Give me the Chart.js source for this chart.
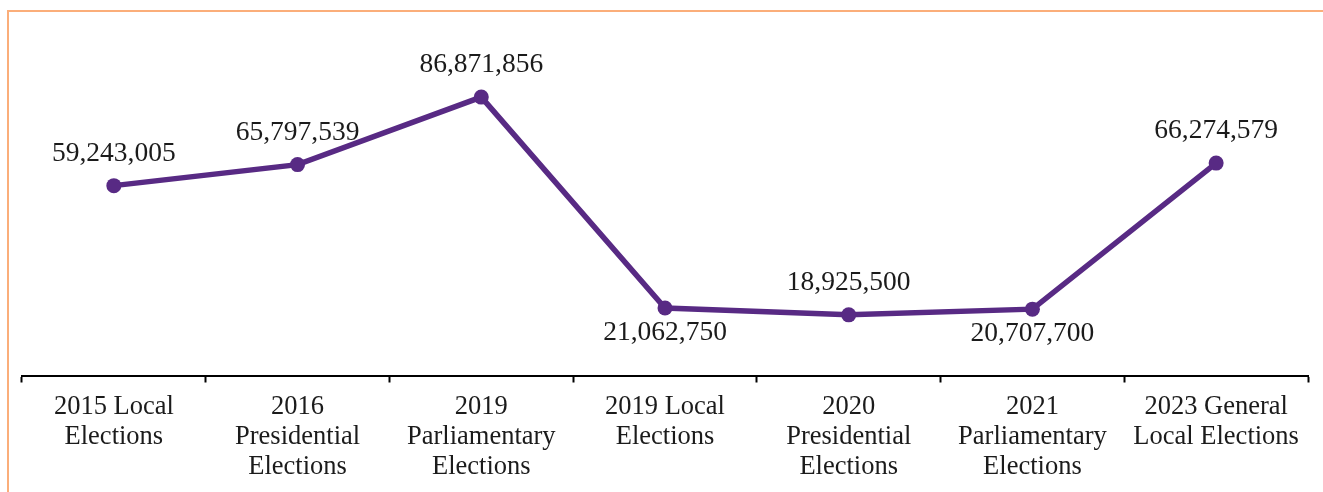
<!DOCTYPE html>
<html>
<head>
<meta charset="utf-8">
<script src="https://cdn.jsdelivr.net/npm/chart.js@4.4.0/dist/chart.umd.min.js"></script>
<style>
  html, body { margin: 0; padding: 0; background: #ffffff; }
  #wrap { width: 1323px; height: 492px; position: relative; }
</style>
</head>
<body>
<div id="wrap"><canvas id="c" width="1323" height="492"></canvas></div>
<script>
// Election categories (multi-line axis labels)
const categories = [
  ["2015 Local", "Elections"],
  ["2016", "Presidential", "Elections"],
  ["2019", "Parliamentary", "Elections"],
  ["2019 Local", "Elections"],
  ["2020", "Presidential", "Elections"],
  ["2021", "Parliamentary", "Elections"],
  ["2023 General", "Local Elections"]
];

// Amount per election
const amounts = [59243005, 65797539, 86871856, 21062750, 18925500, 20707700, 66274579];

const FONT = "'Liberation Serif', 'Times New Roman', serif";
const PURPLE = "#582A84";

// Orange frame along the top and left edges
const framePlugin = {
  id: "frame",
  beforeDraw(chart) {
    const ctx = chart.ctx;
    ctx.save();
    ctx.fillStyle = "#FBAE7A";
    ctx.fillRect(7, 10, chart.width - 7, 2);
    ctx.fillRect(7, 10, 2, chart.height - 10);
    ctx.restore();
  }
};

// Value labels above or below each point
const valueLabels = {
  id: "valueLabels",
  afterDatasetsDraw(chart, args, opts) {
    const ctx = chart.ctx;
    const meta = chart.getDatasetMeta(0);
    const data = chart.data.datasets[0].data;
    ctx.save();
    ctx.font = opts.font;
    ctx.fillStyle = opts.color;
    ctx.textAlign = "center";
    ctx.textBaseline = "middle";
    meta.data.forEach((pt, i) => {
      const below = opts.below.includes(i);
      const y = below ? pt.y + opts.belowOffset : pt.y - opts.aboveOffset;
      ctx.fillText(data[i].toLocaleString("en-US"), pt.x, y);
    });
    ctx.restore();
  }
};

new Chart(document.getElementById("c"), {
  type: "line",
  data: {
    labels: categories,
    datasets: [{
      data: amounts,
      borderColor: PURPLE,
      backgroundColor: PURPLE,
      borderWidth: 5.5,
      pointRadius: 7.5,
      pointHoverRadius: 7.5,
      pointBackgroundColor: PURPLE,
      pointBorderWidth: 0,
      tension: 0,
      clip: false
    }]
  },
  options: {
    responsive: false,
    animation: false,
    events: [],
    layout: { padding: { top: 55, left: 22, right: 15, bottom: 0 } },
    plugins: {
      legend: { display: false },
      tooltip: { enabled: false },
      valueLabels: {
        font: "27.5px " + FONT,
        color: "#1b1b1b",
        below: [3, 5],
        aboveOffset: 32,
        belowOffset: 25
      }
    },
    scales: {
      x: {
        offset: true,
        grid: {
          offset: true,
          drawOnChartArea: false,
          drawTicks: true,
          tickLength: 7,
          tickWidth: 2,
          tickColor: "#000000"
        },
        border: { display: true, color: "#000000", width: 2 },
        ticks: {
          color: "#1b1b1b",
          font: { family: FONT, size: 26.5, lineHeight: 1.13 },
          padding: 10,
          maxRotation: 0,
          autoSkip: false
        },
        afterFit(scale) { scale.height = 116.5; }
      },
      y: {
        display: false,
        min: 0,
        max: 100000000
      }
    }
  },
  plugins: [framePlugin, valueLabels]
});
</script>
</body>
</html>
